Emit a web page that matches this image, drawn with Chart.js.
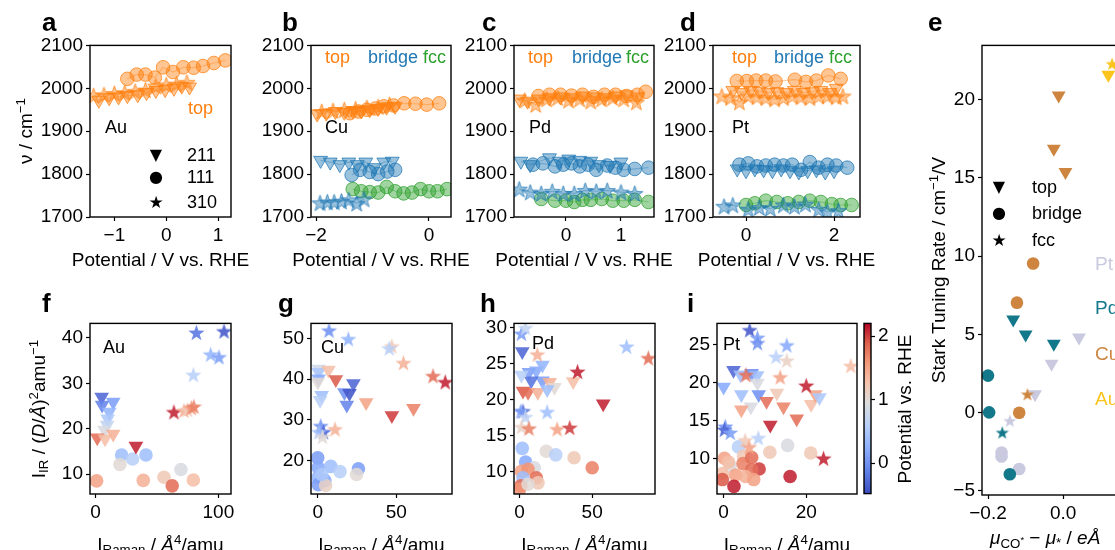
<!DOCTYPE html>
<html>
<head>
<meta charset="utf-8">
<script src="https://cdn.jsdelivr.net/npm/chart.js@4.4.1/dist/chart.umd.min.js"></script>
<style>
html, body { margin: 0; padding: 0; background: #fff; overflow: hidden; width: 1115px; height: 550px; position: relative;
  font-family: "Liberation Sans", Arial, sans-serif; }
canvas { position: absolute; }
.t { position: absolute; white-space: nowrap; line-height: 1; font-size: 18px; color: #000; transform: translate(0, -50%); }
.c { transform: translate(-50%, -50%); font-size: 19px; }
.r { transform: translate(-50%, -50%) rotate(-90deg); font-size: 19px; }
.L { font-weight: bold; font-size: 26px; transform: none; }
.sym { font-family: "DejaVu Sans", sans-serif; font-size: 16px; transform: translate(-50%, -50%); }
sub, sup { font-size: 0.7em; line-height: 0; }
sub { vertical-align: -0.3em; }
sup { vertical-align: 0.5em; }
</style>
</head>
<body>
<script>
const FONT = '"Liberation Sans", Arial, sans-serif';

// ---- tick labels ----
const topYTicks = [1700, 1800, 1900, 2000, 2100];
const aXTicks = [-1, 0, 1];
const bXTicks = [-2, 0];
const cXTicks = [0, 1];
const dXTicks = [0, 2];
const eXTicks = [-0.2, 0.0, 0.2];
const eYTicks = [-5, 0, 5, 10, 15, 20];
const fXTicks = [0, 100], fYTicks = [10, 20, 30, 40];
const gXTicks = [0, 50], gYTicks = [20, 30, 40, 50];
const hXTicks = [0, 50], hYTicks = [10, 15, 20, 25, 30];
const iXTicks = [0, 20], iYTicks = [10, 15, 20, 25];
const cbTicks = [0, 1, 2];

// ---- a-d: frequency vs potential, [potential, wavenumber] ----
const auTop211 = [[-1.3,1972],[-1.1,1978],[-0.92,1980],[-0.75,1983],[-0.55,1985],[-0.38,1990],[-0.2,1995],[-0.02,1997],[0.15,2000],[0.3,2005],[0.45,2003]];
const auTop111 = [[-0.75,2022],[-0.57,2032],[-0.4,2032],[-0.22,2025],[-0.06,2049],[0.13,2038],[0.33,2049],[0.53,2048],[0.71,2052],[0.92,2059],[1.14,2065]];
const auTop310 = [[-1.4,1983],[-1.2,1985],[-1.0,1988],[-0.8,1990],[-0.6,1993],[-0.4,1996],[-0.2,2005],[0,2008],[0.2,2010],[0.4,2014]];

const cuTop211 = [[-1.98,1940],[-1.82,1942],[-1.66,1946],[-1.5,1944],[-1.35,1948],[-1.2,1947],[-1.05,1950],[-0.9,1953],[-0.75,1956],[-0.6,1958]];
const cuTop111 = [[-1.4,1942],[-1.25,1946],[-1.1,1950],[-0.95,1953],[-0.8,1958],[-0.63,1960],[-0.44,1965],[-0.24,1964],[-0.04,1962],[0.18,1965]];
const cuTop310 = [[-1.9,1946],[-1.7,1948],[-1.5,1950],[-1.3,1952],[-1.1,1955],[-0.9,1957],[-0.7,1962]];
const cuBr211 = [[-1.92,1832],[-1.75,1828],[-1.58,1822],[-1.42,1828],[-1.27,1822],[-1.12,1828],[-0.97,1815],[-0.8,1828],[-0.65,1830]];
const cuBr111 = [[-1.37,1798],[-1.22,1810],[-1.05,1805],[-0.9,1800],[-0.74,1806],[-0.6,1810]];
const cuBr310 = [[-1.93,1733],[-1.8,1735],[-1.68,1735],[-1.55,1737],[-1.42,1740],[-1.28,1732],[-1.15,1742]];
const cuFcc111 = [[-1.35,1765],[-1.2,1760],[-1.05,1758],[-0.9,1757],[-0.75,1770],[-0.6,1760],[-0.45,1755],[-0.3,1757],[-0.15,1765],[0.0,1760],[0.15,1760],[0.32,1765]];

const pdTop211 = [[-0.85,1975],[-0.7,1970],[-0.5,1975],[-0.3,1978],[-0.1,1980],[0.1,1978],[0.3,1982],[0.5,1980],[0.7,1978],[0.9,1982],[1.1,1985],[1.3,1980]];
const pdTop111 = [[-0.5,1982],[-0.3,1985],[-0.1,1985],[0.1,1983],[0.3,1985],[0.5,1980],[0.7,1985],[0.9,1985],[1.1,1982],[1.3,1985],[1.45,1992]];
const pdTop310 = [[-0.75,1972],[-0.55,1962],[-0.35,1975],[-0.15,1978],[0.05,1972],[0.25,1975],[0.45,1970],[0.65,1975],[0.85,1978],[1.05,1975],[1.28,1968]];
const pdBr211 = [[-0.82,1830],[-0.65,1822],[-0.3,1838],[-0.12,1830],[0.05,1835],[0.25,1832],[0.45,1830],[0.6,1822],[0.8,1820],[1.0,1828]];
const pdBr111 = [[-0.6,1822],[-0.42,1825],[-0.2,1818],[-0.05,1822],[0.1,1825],[0.25,1818],[0.4,1822],[0.55,1810],[0.75,1820],[0.9,1815],[1.05,1810],[1.25,1812],[1.5,1815]];
const pdBr310 = [[-0.85,1765],[-0.65,1758],[-0.45,1755],[-0.25,1760],[-0.05,1755],[0.15,1755],[0.35,1762],[0.55,1760],[0.75,1762],[1.0,1758],[1.25,1755]];
const pdFcc111 = [[-0.45,1742],[-0.2,1738],[0.0,1738],[0.15,1735],[0.3,1740],[0.45,1740],[0.65,1742],[0.85,1738],[1.05,1738],[1.25,1740],[1.5,1735]];

const ptTop211 = [[-0.3,1995],[-0.1,1990],[0.1,1995],[0.3,1993],[0.5,1990],[0.7,1992],[0.9,1990],[1.1,1995],[1.3,1990],[1.5,1992],[1.7,1995],[1.9,1990],[2.05,2000]];
const ptTop111 = [[-0.21,2017],[0.02,2017],[0.23,2018],[0.45,2018],[0.67,2016],[1.11,2020],[1.36,2015],[1.6,2018],[1.87,2030],[2.15,2022]];
const ptTop310 = [[-0.55,1982],[-0.35,1978],[-0.15,1968],[0.05,1982],[0.25,1980],[0.45,1978],[0.65,1975],[0.85,1978],[1.05,1982],[1.25,1980],[1.45,1978],[1.65,1982],[1.85,1982],[2.05,1980],[2.2,1982]];
const ptBr211 = [[-0.2,1812],[0.0,1808],[0.2,1812],[0.4,1810],[0.6,1808],[0.8,1812],[1.0,1808],[1.2,1805],[1.4,1808],[1.6,1810],[1.8,1805],[2.0,1808]];
const ptBr111 = [[-0.15,1822],[0.05,1825],[0.25,1818],[0.45,1820],[0.65,1822],[0.85,1820],[1.05,1822],[1.25,1810],[1.45,1828],[1.65,1815],[1.85,1822],[2.05,1820],[2.3,1815]];
const ptBr310 = [[-0.5,1725],[-0.3,1728],[0.05,1718],[0.3,1722],[0.55,1720],[0.85,1728],[1.1,1725],[1.35,1730],[1.65,1718],[1.85,1712],[2.1,1715]];
const ptFcc111 = [[0.0,1728],[0.2,1732],[0.45,1738],[0.7,1735],[0.95,1732],[1.2,1735],[1.45,1738],[1.7,1735],[1.95,1730],[2.15,1728],[2.4,1728]];

// ---- e: Stark tuning rate vs dipole difference, [dmu, rate] ----
const auTopE = [[0.12,21.6],[0.145,22.1]];
const auFccE = [[0.13,22.3]];
const cuTopE = [[-0.012,20.27],[-0.025,16.87],[0.006,15.38]];
const cuBrE = [[-0.08,9.53],[-0.123,7.03],[-0.117,0.0]];
const cuFccE = [[-0.095,1.18]];
const pdTopE = [[-0.133,5.96],[-0.1,5.0],[-0.025,4.4]];
const pdBrE = [[-0.2,2.37],[-0.197,0.02],[-0.142,-3.93]];
const pdFccE = [[-0.162,-1.26]];
const ptTopE = [[0.042,4.8],[-0.031,3.12],[-0.075,1.18]];
const ptBrE = [[-0.164,-2.54],[-0.164,-2.8],[-0.117,-3.6]];
const ptFccE = [[-0.142,-0.51]];

// ---- f-i: IR vs Raman intensity, [I_Raman, I_IR, potential] ----
const auTriIR = [[4.9,27,-0.3],[5.3,25.2,-0.1],[14.3,25.9,0.1],[11.1,23.7,0.3],[9.8,22.2,0.5],[9.3,20.8,0.7],[7.2,19.7,0.9],[1.3,18.0,1.8],[7.7,17.8,1.3],[14.3,18.8,1.4],[32.8,16.2,2.1]];
const auCircIR = [[21.2,14.2,0.4],[30.1,13.3,0.6],[41,14.2,0.4],[19.8,12.1,1.0],[0.8,8.5,1.5],[38.8,8.6,1.4],[55.7,9.3,1.2],[62.4,7.4,1.8],[69.5,11.0,0.9],[79.6,8.7,1.3]];
const auStarIR = [[82.1,41.2,-0.2],[104.6,41.5,-0.4],[93.7,36.4,0.3],[100.5,35.8,0.1],[79.6,31.9,0.6],[63.8,23.7,2.1],[72,24.0,1.4],[75,24.2,1.2],[78,24.6,1.6],[80,24.9,1.7]];

const cuTriIR = [[0.5,42.5,0.8],[0.5,41.7,0.5],[0.5,40.1,0.2],[0,39.3,1.0],[2.5,36.0,0.4],[1.5,34.8,0.6],[6.8,42.2,1.3],[11.5,39.9,1.9],[22.7,38.9,-0.3],[17,36.7,0.0],[20.2,36.5,-0.4],[18.5,33.6,-0.1],[30.8,34.2,1.5],[47.2,31,2.0],[61,32.8,1.7]];
const cuCircIR = [[0,20.6,0.1],[0.3,18.2,0.2],[8.3,18.5,0.4],[14.2,17.2,0.6],[25.9,17.9,0.1],[24.7,16.5,1.0],[0.3,15.8,0.3],[4.5,15.0,0.2],[0.3,14.0,0.1],[5,13.8,1.1],[2.6,16.5,0.5]];
const cuStarIR = [[7.2,52,0.0],[19.5,49.9,0.3],[47.2,48.1,1.2],[45.5,47.6,0.6],[54.6,44.0,1.4],[73.4,40.8,1.8],[81.2,39.3,2.1],[1.9,28.5,0.0],[3.7,27,-0.3],[0.8,27,0.4],[3,25.8,1.0],[11.0,27.7,1.4]];

const pdTriIR = [[1.8,26.7,-0.3],[6.4,23.8,0.1],[11.5,24.0,0.2],[15.7,24.8,0.3],[15.7,22.6,0.1],[8,22.6,-0.2],[1.2,23.4,0.6],[2.3,21.2,1.9],[5.8,21,1.8],[12.5,21,1.4],[20.7,22.4,1.4],[24,21.7,1.0],[19,21.4,0.4],[36.9,22.5,1.3],[57.6,19.4,2.1]];
const pdCircIR = [[1.8,13.2,0.4],[18.4,12.8,1.0],[24.9,12.3,0.6],[37.5,11.9,1.2],[50,10.5,1.7],[4.1,11.3,0.2],[10.1,10.5,0.9],[1.2,10,1.5],[5.8,10.3,1.6],[2.3,9.1,0.4],[11.5,9.1,1.8],[12.7,8.4,1.2],[0.8,8.0,1.8],[0,7.5,1.6],[5.8,8.2,1.0]];
const pdStarIR = [[1.2,29.2,0.1],[4,30.0,0.7],[73.7,27.4,0.4],[88.7,25.8,1.8],[39.9,23.9,2.1],[12.2,26.3,1.4],[2.3,18.4,-0.3],[0.8,18.4,0.1],[4,17.6,0.7],[18.9,18.3,0.4],[1.2,16.2,1.1],[6.4,16,1.7],[25.8,15.9,1.5],[34.5,16.1,2.0]];

const ptTriIR = [[2.4,21.6,-0.3],[0,19.4,0.2],[4.1,21,0.4],[6.8,21.2,0.0],[8.1,20.9,0.4],[8.2,19.9,0.9],[4.3,18.4,0.4],[8.5,18.4,0.0],[6.6,16.8,0.9],[4.3,16.4,1.5],[10.4,17.5,1.8],[12.9,18.6,1.2],[14.5,16.8,1.7],[11.3,14.4,2.1],[17.7,15.2,1.8],[21.2,17.1,1.3],[22.2,18.4,1.5],[23.2,18,0.5]];
const ptCircIR = [[15.5,11.7,0.9],[11.2,10.8,1.2],[21.1,10.7,1.2],[3.6,11.5,0.6],[0.2,10.0,1.5],[4.8,10.3,1.2],[1.6,9.0,0.9],[4.7,9.3,1.7],[6.8,10.1,1.8],[8.6,8.6,2.0],[6.8,8.5,1.8],[-0.3,8.0,1.3],[2.9,7.8,1.5],[5.3,7.6,1.4],[7.3,7.2,1.5],[-0.3,7.2,1.9],[2.5,6.3,2.1],[16.1,7.6,2.1],[1.2,9.5,1.3]];
const ptStarIR = [[6.3,26.9,-0.4],[8.2,25.9,0.1],[8.2,25.2,0.0],[15.3,24.9,0.2],[12.7,23.4,0.6],[15.3,22.9,1.1],[30.8,22.2,1.3],[20,19.6,2.1],[13.7,20.7,1.5],[5.4,21,1.8],[0.4,14.2,0.0],[0.2,13.8,-0.3],[1.6,13.4,0.1],[5.2,12.4,1.2],[8.4,12.7,0.6],[6.2,11.5,1.5],[24.2,10,2.1]];

// colour scale range of the colour bar
const CMIN = -0.48, CMID = 0.95, CMAX = 2.2;

const ORANGE = [255, 127, 14], BLUE = [31, 119, 180], GREEN = [44, 160, 44];
const PT_C = [201, 201, 224], PD_C = [19, 121, 138], CU_C = [205, 133, 63], AU_C = [250, 196, 28];
const rgba = (c, a) => `rgba(${c[0]},${c[1]},${c[2]},${a})`;

const CW = [[0, 59, 76, 192], [0.125, 98, 130, 234], [0.25, 141, 176, 254], [0.375, 184, 208, 249], [0.5, 221, 221, 221],
  [0.625, 245, 196, 173], [0.75, 244, 154, 123], [0.875, 222, 96, 77], [1, 180, 4, 38]];

function coolwarm(t) {
  t = Math.max(0, Math.min(1, t));
  for (let i = 1; i < CW.length; i++) {
    if (t <= CW[i][0]) {
      const a = CW[i - 1], b = CW[i], f = (t - a[0]) / (b[0] - a[0]);
      return [0, 1, 2].map(k => Math.round(a[k + 1] + f * (b[k + 1] - a[k + 1])));
    }
  }
  return CW[CW.length - 1].slice(1);
}
const pToT = p => p < CMID ? 0.5 * (p - CMIN) / (CMID - CMIN) : 0.5 + 0.5 * (p - CMID) / (CMAX - CMID);
const tToP = t => t < 0.5 ? CMIN + (t / 0.5) * (CMID - CMIN) : CMID + ((t - 0.5) / 0.5) * (CMAX - CMID);
const potColor = (p, a) => rgba(coolwarm(pToT(p)), a);

// filled five-pointed star used as a point style
const starCache = {};
function starImg(fill, stroke, r) {
  const key = fill + '|' + stroke + '|' + r;
  if (starCache[key]) return starCache[key];
  const c = document.createElement('canvas');
  const s = Math.ceil(2 * r + 4);
  c.width = c.height = s;
  const g = c.getContext('2d');
  g.translate(s / 2, s / 2 + r * 0.1);
  g.beginPath();
  for (let i = 0; i < 10; i++) {
    const rr = i % 2 ? r * 0.4 : r;
    const a = -Math.PI / 2 + i * Math.PI / 5;
    g.lineTo(rr * Math.cos(a), rr * Math.sin(a));
  }
  g.closePath();
  g.fillStyle = fill;
  g.fill();
  if (stroke) { g.strokeStyle = stroke; g.lineWidth = 1; g.stroke(); }
  starCache[key] = c;
  return c;
}

const frame = {
  id: 'frame',
  afterDatasetsDraw(chart) {
    const a = chart.chartArea, g = chart.ctx;
    g.save();
    g.strokeStyle = '#000';
    g.lineWidth = 1.4;
    g.strokeRect(a.left, a.top, a.right - a.left, a.bottom - a.top);
    g.restore();
  }
};

const fmt0 = v => String(v).replace('-', '\u2212');
const fmt1 = v => v.toFixed(1).replace('-', '\u2212');

function scale(pos, min, max, ticks, fmt, size) {
  const horiz = pos === 'bottom' || pos === 'top';
  return {
    type: 'linear', position: pos, min: min, max: max,
    afterBuildTicks: s => { s.ticks = ticks.map(v => ({ value: v })); },
    afterFit: s => { if (horiz) s.height = size; else s.width = size; },
    grid: { drawOnChartArea: false, drawTicks: true, tickLength: 4, tickWidth: 1.2, tickColor: '#000', color: '#000' },
    border: { display: false },
    ticks: { color: '#000', font: { family: FONT, size: 19 }, padding: 3, autoSkip: false, maxRotation: 0,
      callback: v => fmt(v) }
  };
}

const W = 64, H = 44, P = 14;
function panel(box, xs, ys, datasets) {
  const [l, t, r, b] = box;
  const cv = document.createElement('canvas');
  cv.width = r - l + W + P;
  cv.height = b - t + P + H;
  cv.style.left = (l - W) + 'px';
  cv.style.top = (t - P) + 'px';
  document.body.appendChild(cv);
  new Chart(cv, {
    type: 'scatter',
    data: { datasets: datasets },
    options: {
      responsive: false, animation: false, events: [],
      layout: { padding: { top: P, right: P, left: 0, bottom: 0 } },
      plugins: { legend: { display: false }, tooltip: { enabled: false } },
      scales: { x: scale('bottom', ...xs, H), y: scale('left', ...ys, W) }
    },
    plugins: [frame]
  });
}

function topSet(pts, col, shape) {
  const base = { data: pts.map(p => ({ x: p[0], y: p[1] })), showLine: true,
    borderColor: rgba(col, 0.35), borderWidth: 1.2, clip: 0 };
  if (shape === 'star') {
    return Object.assign(base, { pointStyle: starImg(rgba(col, 0.45), rgba(col, 0.75), 8.5) });
  }
  return Object.assign(base, {
    pointStyle: shape === 'tri' ? 'triangle' : 'circle', pointRotation: shape === 'tri' ? 180 : 0,
    pointRadius: shape === 'tri' ? 8 : 6.8,
    pointBackgroundColor: rgba(col, 0.45), pointBorderColor: rgba(col, 0.75), pointBorderWidth: 1
  });
}

function irSet(pts, shape) {
  const data = pts.map(p => ({ x: p[0], y: p[1], p: p[2] }));
  const col = c => c.raw ? potColor(c.raw.p, 0.88) : '#888';
  if (shape === 'star') {
    return { data: data, clip: 0, pointStyle: c => c.raw ? starImg(col(c), null, 8.5) : 'circle' };
  }
  return { data: data, clip: 0, pointStyle: shape === 'tri' ? 'triangle' : 'circle',
    pointRotation: shape === 'tri' ? 180 : 0, pointRadius: shape === 'tri' ? 8.5 : 6.8,
    pointBackgroundColor: col, pointBorderWidth: 0 };
}

function eSet(pts, col, shape) {
  const data = pts.map(p => ({ x: p[0], y: p[1] }));
  if (shape === 'star') return { data: data, clip: 0, pointStyle: starImg(rgba(col, 1), null, 7) };
  return { data: data, clip: 0, pointStyle: shape === 'tri' ? 'triangle' : 'circle',
    pointRotation: shape === 'tri' ? 180 : 0, pointRadius: shape === 'tri' ? 8 : 6.3,
    pointBackgroundColor: rgba(col, 1), pointBorderWidth: 0 };
}

// ---- top row ----
panel([90, 45, 231, 217], [-1.47, 1.25, aXTicks, fmt0], [1700, 2100, topYTicks, fmt0], [
  topSet(auTop111, ORANGE, 'circ'), topSet(auTop211, ORANGE, 'tri'), topSet(auTop310, ORANGE, 'star')]);
panel([311, 45, 451, 217], [-2.09, 0.39, bXTicks, fmt0], [1700, 2100, topYTicks, fmt0], [
  topSet(cuTop211, ORANGE, 'tri'), topSet(cuTop111, ORANGE, 'circ'), topSet(cuTop310, ORANGE, 'star'),
  topSet(cuBr211, BLUE, 'tri'), topSet(cuBr111, BLUE, 'circ'), topSet(cuBr310, BLUE, 'star'),
  topSet(cuFcc111, GREEN, 'circ')]);
panel([514, 45, 654, 217], [-0.945, 1.6, cXTicks, fmt0], [1700, 2100, topYTicks, fmt0], [
  topSet(pdTop211, ORANGE, 'tri'), topSet(pdTop111, ORANGE, 'circ'), topSet(pdTop310, ORANGE, 'star'),
  topSet(pdBr211, BLUE, 'tri'), topSet(pdBr111, BLUE, 'circ'), topSet(pdBr310, BLUE, 'star'),
  topSet(pdFcc111, GREEN, 'circ')]);
panel([713, 45, 860, 217], [-0.75, 2.59, dXTicks, fmt0], [1700, 2100, topYTicks, fmt0], [
  topSet(ptTop211, ORANGE, 'tri'), topSet(ptTop111, ORANGE, 'circ'), topSet(ptTop310, ORANGE, 'star'),
  topSet(ptBr211, BLUE, 'tri'), topSet(ptBr111, BLUE, 'circ'), topSet(ptBr310, BLUE, 'star'),
  topSet(ptFcc111, GREEN, 'circ')]);

// ---- e ----
panel([982, 45, 1176, 495], [-0.216, 0.3, eXTicks, fmt1], [-5.26, 23.47, eYTicks, fmt0], [
  eSet(auTopE, AU_C, 'tri'), eSet(auFccE, AU_C, 'star'),
  eSet(cuTopE, CU_C, 'tri'), eSet(cuBrE, CU_C, 'circ'), eSet(cuFccE, CU_C, 'star'),
  eSet(pdTopE, PD_C, 'tri'), eSet(pdBrE, PD_C, 'circ'), eSet(pdFccE, PD_C, 'star'),
  eSet(ptTopE, PT_C, 'tri'), eSet(ptBrE, PT_C, 'circ'), eSet(ptFccE, PT_C, 'star')]);

// ---- bottom row ----
panel([90, 323, 231, 494], [-4.6, 110.3, fXTicks, fmt0], [5.6, 43.2, fYTicks, fmt0], [
  irSet(auStarIR, 'star'), irSet(auTriIR, 'tri'), irSet(auCircIR, 'circ')]);
panel([311, 323, 452, 494], [-4.3, 85.5, gXTicks, fmt0], [11.7, 53.7, gYTicks, fmt0], [
  irSet(cuStarIR, 'star'), irSet(cuTriIR, 'tri'), irSet(cuCircIR, 'circ')]);
panel([514, 323, 655, 494], [-3.9, 93.3, hXTicks, fmt0], [6.85, 30.6, hYTicks, fmt0], [
  irSet(pdStarIR, 'star'), irSet(pdTriIR, 'tri'), irSet(pdCircIR, 'circ')]);
panel([717, 323, 857, 494], [-1.6, 32.3, iXTicks, fmt0], [5.3, 27.76, iYTicks, fmt0], [
  irSet(ptStarIR, 'star'), irSet(ptTriIR, 'tri'), irSet(ptCircIR, 'circ')]);

// ---- colour bar ----
(function () {
  const l = 864, t = 323, r = 871, b = 494, pad = 4, aw = 40;
  const cv = document.createElement('canvas');
  cv.width = r - l + pad + aw;
  cv.height = b - t + 2 * P;
  cv.style.left = (l - pad) + 'px';
  cv.style.top = (t - P) + 'px';
  document.body.appendChild(cv);
  const fill = c => {
    const ch = c.chart, a = ch.chartArea;
    if (!a) return '#ddd';
    const ys = ch.scales.y;
    const y0 = ys.getPixelForValue(CMIN), y1 = ys.getPixelForValue(CMAX);
    const g = ch.ctx.createLinearGradient(0, y0, 0, y1);
    CW.forEach(s => g.addColorStop((tToP(s[0]) - CMIN) / (CMAX - CMIN), `rgb(${s[1]},${s[2]},${s[3]})`));
    return g;
  };
  new Chart(cv, {
    type: 'bar',
    data: { labels: [''], datasets: [{ data: [[CMIN, CMAX]], backgroundColor: fill, borderWidth: 0,
      barPercentage: 1, categoryPercentage: 1 }] },
    options: {
      responsive: false, animation: false, events: [],
      layout: { padding: { top: P, bottom: P, left: pad, right: 0 } },
      plugins: { legend: { display: false }, tooltip: { enabled: false } },
      scales: {
        x: { display: false },
        y: scale('right', CMIN, CMAX, cbTicks, fmt0, aw)
      }
    },
    plugins: [frame]
  });
})();

// ---- text ----
function txt(html, x, y, cls, style) {
  const d = document.createElement('div');
  d.className = 't ' + (cls || '');
  d.innerHTML = html;
  d.style.left = x + 'px';
  d.style.top = y + 'px';
  if (style) Object.assign(d.style, style);
  document.body.appendChild(d);
}

[['a', 42, 9], ['b', 282, 9], ['c', 482, 9], ['d', 680, 9], ['e', 928, 9],
 ['f', 42, 290], ['g', 278, 290], ['h', 480, 290], ['i', 687, 290]].forEach(p => txt(p[0], p[1], p[2], 'L'));

const cOr = rgba(ORANGE, 1), cBl = rgba(BLUE, 1), cGr = rgba(GREEN, 1);
txt('top', 188, 108, '', { color: cOr });
[[325, 368, 423], [528, 572, 626], [732, 774, 829]].forEach(p => {
  txt('top', p[0], 57, '', { color: cOr });
  txt('bridge', p[1], 57, '', { color: cBl });
  txt('fcc', p[2], 57, '', { color: cGr });
});

txt('Au', 105, 127); txt('Cu', 325, 127); txt('Pd', 529, 127); txt('Pt', 732, 127);
txt('Au', 103, 347); txt('Cu', 321, 347); txt('Pd', 532, 343); txt('Pt', 723, 344);

// legend in a
txt('\u25BC', 156, 155, 'sym'); txt('211', 187, 155);
txt('\u25CF', 156, 177, 'sym'); txt('111', 187, 177);
txt('\u2605', 156, 202, 'sym', { fontSize: '17px' }); txt('310', 187, 202);
// legend in e
txt('\u25BC', 999, 187, 'sym'); txt('top', 1032, 187);
txt('\u25CF', 999, 213, 'sym'); txt('bridge', 1032, 213);
txt('\u2605', 999, 240, 'sym', { fontSize: '17px' }); txt('fcc', 1032, 240);

txt('Pt', 1095, 263, '', { color: rgba(PT_C, 1), fontSize: '19px' });
txt('Pd', 1095, 307, '', { color: rgba(PD_C, 1), fontSize: '19px' });
txt('Cu', 1095, 353, '', { color: rgba(CU_C, 1), fontSize: '19px' });
txt('Au', 1095, 398, '', { color: rgba(AU_C, 1), fontSize: '19px' });

// axis titles
txt('\u03BD / cm<sup>\u22121</sup>', 25, 131, 'r');
[160.5, 381, 584, 786.5].forEach(x => txt('Potential / V vs. RHE', x, 259, 'c'));
[160.5, 381.5, 584.5, 787].forEach(x => txt('I<sub>Raman</sub> / <i>\u00C5</i><sup>4</sup>/amu', x, 544, 'c'));
txt('I<sub>IR</sub> / (<i>D</i>/<i>\u00C5</i>)<sup>2</sup>amu<sup>\u22121</sup>', 38, 408.5, 'r');
txt('Potential vs. RHE', 904, 408.5, 'r');
txt('Stark Tuning Rate / cm<sup>\u22121</sup>/V', 938, 270, 'r');
txt('<i>\u03BC</i><sub>CO<sup>*</sup></sub> \u2212 <i>\u03BC</i><sub>*</sub> / <i>e\u00C5</i>', 990, 537, '', { fontSize: '19px' });
</script>
</body>
</html>
